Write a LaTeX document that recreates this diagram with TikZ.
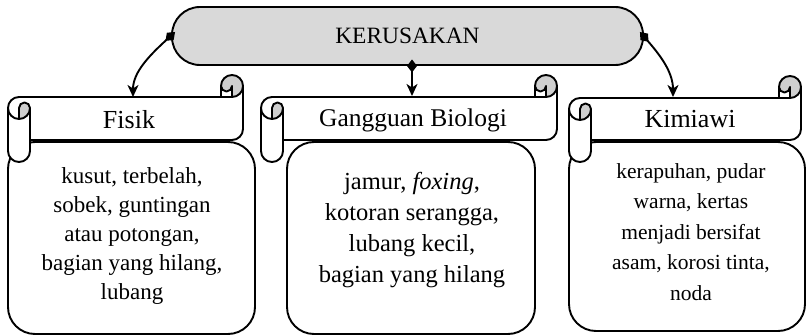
\documentclass[tikz,border=0pt]{standalone}
\usepackage{fontspec}
\setmainfont{Liberation Serif}
\usetikzlibrary{arrows.meta}
\definecolor{topgrey}{HTML}{D9D9D9}
\definecolor{rollgrey}{HTML}{CFCFCF}
\tikzset{
  outl/.style={line width=1.9pt, draw=black, line join=round},
  topbox/.style={outl, fill=topgrey, rounded corners=28pt, minimum width=471pt,
    minimum height=58pt, inner sep=0pt, font=\fontsize{23.4}{28}\selectfont},
  contentbox/.style={outl, fill=white, rounded corners=27pt},
  headtext/.style={inner sep=0pt, anchor=base},
  bodytext/.style={inner sep=0pt, align=center, anchor=center},
  conn/.style={line width=1.9pt,
    {Diamond[length=13pt,width=10pt]}-{Stealth[length=12pt,width=11pt,inset=3.5pt]}},
}
% scroll: #1=L #2=T #3=R #4=B
\newcommand{\drawscroll}[4]{%
  \begin{scope}[shift={(#1,#2)}]
    \pgfmathsetmacro{\rr}{#3-#1}
    \pgfmathsetmacro{\bb}{#4-#2}
    \fill[white] (0,33) arc[start angle=180,delta angle=90,radius=11]
      -- (\rr-22,22) -- (\rr-22,11) arc[start angle=180,delta angle=180,radius=11]
      -- (\rr,\bb-33) arc[start angle=0,delta angle=90,radius=11]
      -- (22,\bb-22) -- (22,\bb-11) arc[start angle=0,delta angle=180,radius=11] -- cycle;
    \fill[rollgrey] (11,44) arc[start angle=90,delta angle=-90,radius=11]
      arc[start angle=0,delta angle=-180,radius=5.5] -- cycle;
    \fill[rollgrey] (\rr-11,22) arc[start angle=90,delta angle=-270,radius=11]
      arc[start angle=180,delta angle=-180,radius=5.5] -- cycle;
    \draw[outl] (0,33) arc[start angle=180,delta angle=90,radius=11]
      -- (\rr-22,22) -- (\rr-22,11) arc[start angle=180,delta angle=180,radius=11]
      -- (\rr,\bb-33) arc[start angle=0,delta angle=90,radius=11]
      -- (22,\bb-22) -- (22,\bb-11) arc[start angle=0,delta angle=180,radius=11] -- cycle;
    \draw[outl] (\rr-22,22) -- (\rr-11,22) arc[start angle=90,delta angle=-90,radius=11];
    \draw[outl] (\rr-11,22) -- (\rr-11,11) arc[start angle=0,delta angle=180,radius=5.5];
    \draw[outl] (11,44) -- (11,33) arc[start angle=180,delta angle=180,radius=5.5]
      arc[start angle=0,delta angle=180,radius=11];
    \draw[outl] (22,33) -- (22,\bb-22);
  \end{scope}}
\begin{document}
\begin{tikzpicture}[x=1pt,y=-1pt]
\useasboundingbox (0,0) rectangle (806,336);
% content boxes
\draw[contentbox] (8,142) rectangle (255,334);
\draw[contentbox] (287,142) rectangle (535,334);
\draw[contentbox] (569,142) rectangle (805,331);
% scrolls
\drawscroll{8}{75}{243}{162}
\drawscroll{261}{75}{557}{162}
\drawscroll{569}{76}{801}{162}
% top node
\node[topbox] (top) at (407.5,36) {KERUSAKAN};
% headings
\node[headtext, font=\fontsize{26}{30}\selectfont] (h1) at (129,129) {Fisik};
\node[headtext, font=\fontsize{25.5}{30}\selectfont] (h2) at (413,127) {Gangguan Biologi};
\node[headtext, font=\fontsize{26}{30}\selectfont] (h3) at (690,128) {Kimiawi};
% bodies
\node[bodytext, font=\fontsize{23}{29}\selectfont] (b1) at (132,236)
  {kusut, terbelah,\\sobek, guntingan\\atau potongan,\\bagian yang hilang,\\lubang};
\node[bodytext, font=\fontsize{24.5}{31}\selectfont] (b2) at (412,230)
  {jamur, \textit{foxing},\\kotoran serangga,\\lubang kecil,\\bagian yang hilang};
\node[bodytext, font=\fontsize{21.5}{30.5}\selectfont] (b3) at (691,232)
  {kerapuhan, pudar\\warna, kertas\\menjadi bersifat\\asam, korosi tinta,\\noda};
% arrow ends
\coordinate (t1) at (133,97);
\coordinate (t2) at (412,96);
\coordinate (t3) at (673,97);
\draw[conn] ([xshift=4pt,yshift=4pt]top.west) .. controls (150,55) and (133,72) .. (t1);
\draw[conn] ([xshift=4.5pt,yshift=6.5pt]top.south) -- (t2);
\draw[conn] ([xshift=-4pt,yshift=4pt]top.east) .. controls (660,55) and (673,72) .. (t3);
\end{tikzpicture}
\end{document}
